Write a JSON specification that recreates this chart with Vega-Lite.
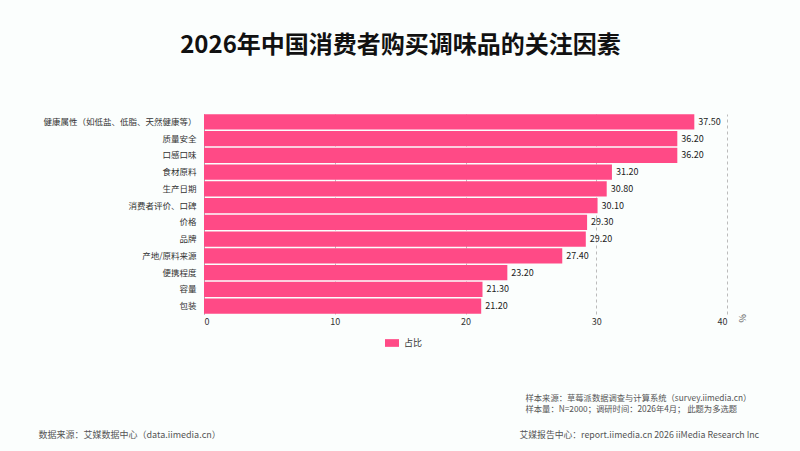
{
  "$schema": "https://vega.github.io/schema/vega-lite/v6.json",
  "width": 523,
  "height": 200,
  "autosize": {"type": "none"},
  "padding": {"left": 204, "right": 73, "top": 114, "bottom": 137},
  "background": "#fbfefd",
  "title": {
    "text": "2026年中国消费者购买调味品的关注因素",
    "font": "Noto Sans CJK SC",
    "fontSize": 24,
    "fontWeight": "bold",
    "color": "#111111",
    "anchor": "middle",
    "frame": "group",
    "dx": -65,
    "offset": 56
  },
  "data": {
    "values": [
      {"factor": "健康属性（如低盐、低脂、天然健康等）", "value": 37.5},
      {"factor": "质量安全", "value": 36.2},
      {"factor": "口感口味", "value": 36.2},
      {"factor": "食材原料", "value": 31.2},
      {"factor": "生产日期", "value": 30.8},
      {"factor": "消费者评价、口碑", "value": 30.1},
      {"factor": "价格", "value": 29.3},
      {"factor": "品牌", "value": 29.2},
      {"factor": "产地/原料来源", "value": 27.4},
      {"factor": "便携程度", "value": 23.2},
      {"factor": "容量", "value": 21.3},
      {"factor": "包装", "value": 21.2}
    ]
  },
  "config": {
    "font": "Noto Sans CJK SC",
    "view": {"stroke": null},
    "axis": {"labelFont": "Noto Sans CJK SC", "titleFont": "Noto Sans CJK SC"}
  },
  "resolve": {"axis": {"x": "independent", "y": "independent"}},
  "layer": [
    {
      "mark": {"type": "bar", "color": "#ff4a86"},
      "encoding": {
        "y": {
          "field": "factor",
          "type": "nominal",
          "sort": null,
          "scale": {"paddingInner": 0.09, "paddingOuter": 0.02},
          "axis": {
            "orient": "left",
            "ticks": false,
            "labelFontSize": 8.5,
            "labelColor": "#333333",
            "labelPadding": 8,
            "domainColor": "#aaaaaa",
            "domainWidth": 1,
            "grid": false,
            "title": "数据来源：艾媒数据中心（data.iimedia.cn）",
            "titleAngle": 0,
            "titleAlign": "left",
            "titleBaseline": "middle",
            "titleX": -166,
            "titleY": 320,
            "titleFontSize": 9,
            "titleFontWeight": "normal",
            "titleColor": "#555555"
          }
        },
        "x": {
          "field": "value",
          "type": "quantitative",
          "scale": {"domain": [0, 40]},
          "axis": {
            "orient": "bottom",
            "values": [0, 10, 20, 30, 40],
            "ticks": false,
            "domain": false,
            "labelFontSize": 9,
            "labelColor": "#333333",
            "labelPadding": 3,
            "grid": true,
            "gridDash": [3, 3],
            "gridColor": "#bbbbbb",
            "title": "%",
            "titleAngle": 90,
            "titleAlign": "center",
            "titleBaseline": "middle",
            "titleX": 537,
            "titleY": 4,
            "titleFontSize": 9,
            "titleFontWeight": "normal",
            "titleColor": "#555555"
          }
        },
        "color": {
          "datum": "占比",
          "scale": {"range": ["#ff4a86"]},
          "legend": {
            "orient": "none",
            "direction": "horizontal",
            "legendX": 181,
            "legendY": 222,
            "title": null,
            "symbolType": "M-1,-0.55H1V0.55H-1Z",
            "symbolSize": 196,
            "symbolStrokeWidth": 0,
            "labelFontSize": 9,
            "labelOffset": 5,
            "labelColor": "#333333"
          }
        }
      }
    },
    {
      "mark": {"type": "text", "align": "left", "dx": 4, "fontSize": 9, "color": "#222222"},
      "encoding": {
        "y": {
          "field": "factor",
          "type": "nominal",
          "sort": null,
          "axis": {
            "orient": "right",
            "labels": false,
            "ticks": false,
            "domain": false,
            "grid": false,
            "title": "艾媒报告中心：report.iimedia.cn    2026 iiMedia Research Inc",
            "titleAngle": 0,
            "titleAlign": "left",
            "titleBaseline": "middle",
            "titleX": -208,
            "titleY": 320,
            "titleFontSize": 8.8,
            "titleFontWeight": "normal",
            "titleColor": "#555555"
          }
        },
        "x": {
          "field": "value",
          "type": "quantitative",
          "axis": {
            "orient": "top",
            "labels": false,
            "ticks": false,
            "domain": false,
            "grid": false,
            "title": ["样本来源：草莓派数据调查与计算系统（survey.iimedia.cn）", "样本量：N=2000；调研时间：2026年4月；  此题为多选题"],
            "titleAngle": 0,
            "titleAlign": "left",
            "titleBaseline": "middle",
            "titleX": 321,
            "titleY": 284,
            "titleLineHeight": 11.5,
            "titleFontSize": 8.3,
            "titleFontWeight": "normal",
            "titleColor": "#555555"
          }
        },
        "text": {"field": "value", "type": "quantitative", "format": ".2f"}
      }
    }
  ]
}
